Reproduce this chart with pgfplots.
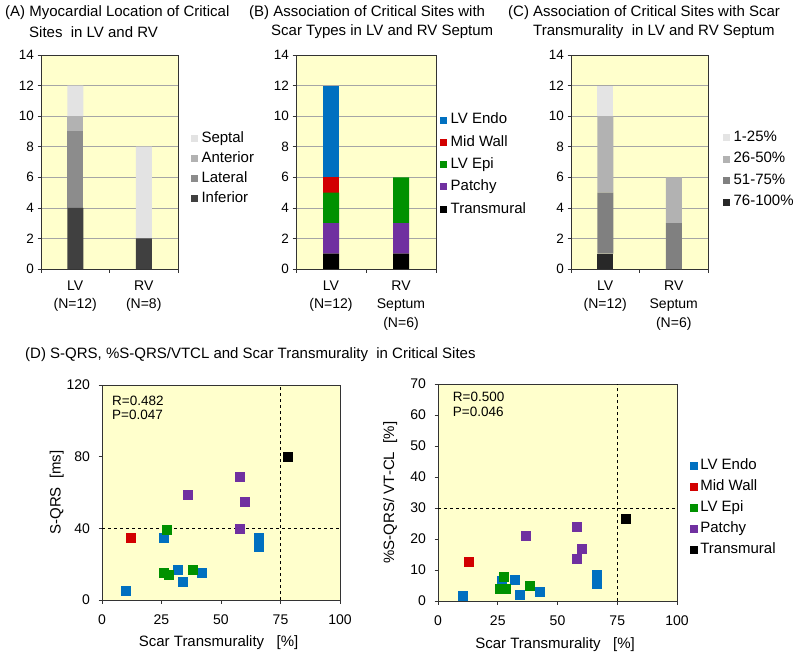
\documentclass[border=0pt]{standalone}
\usepackage{pgfplots}
\pgfplotsset{compat=1.18}
\usepackage{fontspec}
\setmainfont{Liberation Sans}
\definecolor{bgyellow}{RGB}{255,255,204}
\definecolor{gA}{RGB}{227,227,227}
\definecolor{gB}{RGB}{178,178,178}
\definecolor{gC}{RGB}{140,140,140}
\definecolor{gD}{RGB}{64,64,64}
\definecolor{hA}{RGB}{228,228,228}
\definecolor{hB}{RGB}{178,178,178}
\definecolor{hC}{RGB}{128,128,128}
\definecolor{hD}{RGB}{40,40,40}
\definecolor{cEndo}{RGB}{0,112,192}
\definecolor{cMid}{RGB}{210,0,0}
\definecolor{cEpi}{RGB}{0,145,0}
\definecolor{cPat}{RGB}{112,48,160}
\definecolor{cTra}{RGB}{0,0,0}
\newcommand\fA{\fontsize{15}{18}\selectfont}
\newcommand\fT{\fontsize{13.5}{16}\selectfont}
\pgfplotsset{
  common/.style={
    scale only axis, anchor=south west,
    tick align=outside, tick pos=left, major tick length=3.5pt,
    axis background/.style={fill=bgyellow},
    axis line style={black!80, line width=0.7pt},
    tick style={black!80, line width=0.7pt},
    /pgf/number format/assume math mode=true,
    legend style={draw=none, fill=none, inner sep=0pt, outer sep=0pt, font=\fA,
      legend cell align=left, anchor=north west},
  },
  baraxis/.style={
    common, height=214pt,
    ybar stacked, bar width=16pt,
    xmin=0, xmax=2, ymin=0, ymax=14,
    ytick={0,2,...,14},
    xtick={0,1,2}, xticklabels={,,},
    extra x ticks={0.5,1.5},
    extra x tick style={major tick length=0pt,
       tick label style={align=center, font=\fontsize{14}{18.5}\selectfont, yshift=-8pt}},
    ymajorgrids, grid style={black!35, line width=0.6pt},
    yticklabel style={font=\fT},
    reverse legend,
    legend image code/.code={\fill[##1] (0pt,-3.5pt) rectangle (7pt,3.5pt);},
  },
  scataxis/.style={
    common, xmin=0, xmax=100, ymin=0,
    xtick={0,25,50,75,100},
    ticklabel style={font=\fontsize{14}{16}\selectfont},
    xticklabel style={yshift=-8pt},
    yticklabel style={xshift=-5pt},
    xlabel={Scar Transmurality\ \ \ [\%]},
    xlabel style={font=\fA, at={(axis description cs:0.49,-0.2)}, anchor=center},
    ylabel style={font=\fA, anchor=center},
    legend image code/.code={\fill[##1] (0pt,-3.5pt) rectangle (7pt,3.5pt);},
  },
}
\begin{document}
\begin{tikzpicture}
% ---------- titles ----------
\node[anchor=west, inner sep=0pt, font=\fA] at (5pt,-13pt) {(A) Myocardial Location of Critical};
\node[anchor=west, inner sep=0pt, font=\fA] at (29pt,-32pt) {Sites\ \ in LV and RV};
\node[anchor=west, inner sep=0pt, font=\fA] at (249pt,-13pt) {(B) Association of Critical Sites with};
\node[anchor=west, inner sep=0pt, font=\fA] at (271pt,-32pt) {Scar Types in LV and RV Septum};
\node[anchor=west, inner sep=0pt, font=\fA] at (508pt,-13pt) {(C) Association of Critical Sites with Scar};
\node[anchor=west, inner sep=0pt, font=\fA] at (533pt,-32pt) {Transmurality\ \ in LV and RV Septum};
\node[anchor=west, inner sep=0pt, font=\fA] at (25pt,-355pt) {(D) S-QRS, \%S-QRS/VTCL and Scar Transmurality\ \ in Critical Sites};

% ---------- (A) ----------
\begin{axis}[baraxis, width=137pt, at={(41pt,-269pt)},
  extra x tick labels={{LV\\(N=12)},{RV\\(N=8)}},
  legend style={at={(axis description cs:1.095,0.655)},
    nodes={inner xsep=3.5pt, inner ysep=3.25pt, text height=10.5pt, text depth=3pt}}]
\addplot[fill=gD, draw=none] coordinates {(0.5,4) (1.5,2)}; \addlegendentry{Inferior}
\addplot[fill=gC, draw=none] coordinates {(0.5,5) (1.5,0)}; \addlegendentry{Lateral}
\addplot[fill=gB, draw=none] coordinates {(0.5,1) (1.5,0)}; \addlegendentry{Anterior}
\addplot[fill=gA, draw=none] coordinates {(0.5,2) (1.5,6)}; \addlegendentry{Septal}
\end{axis}

% ---------- (B) ----------
\begin{axis}[baraxis, width=140pt, at={(296pt,-269pt)},
  extra x tick labels={{LV\\(N=12)},{RV\\Septum\\(N=6)}},
  legend style={at={(axis description cs:1.03,0.748)},
    nodes={inner xsep=3.5pt, inner ysep=4.4pt, text height=10.5pt, text depth=3pt}}]
\addplot[fill=cTra, draw=none] coordinates {(0.5,1) (1.5,1)}; \addlegendentry{Transmural}
\addplot[fill=cPat, draw=none] coordinates {(0.5,2) (1.5,2)}; \addlegendentry{Patchy}
\addplot[fill=cEpi, draw=none] coordinates {(0.5,2) (1.5,3)}; \addlegendentry{LV Epi}
\addplot[fill=cMid, draw=none] coordinates {(0.5,1) (1.5,0)}; \addlegendentry{Mid Wall}
\addplot[fill=cEndo, draw=none] coordinates {(0.5,6) (1.5,0)}; \addlegendentry{LV Endo}
\end{axis}

% ---------- (C) ----------
\begin{axis}[baraxis, width=137pt, at={(571pt,-269pt)},
  extra x tick labels={{LV\\(N=12)},{RV\\Septum\\(N=6)}},
  legend style={at={(axis description cs:1.11,0.664)},
    nodes={inner xsep=3.5pt, inner ysep=4pt, text height=10.5pt, text depth=3pt}}]
\addplot[fill=hD, draw=none] coordinates {(0.5,1) (1.5,0)}; \addlegendentry{76-100\%}
\addplot[fill=hC, draw=none] coordinates {(0.5,4) (1.5,3)}; \addlegendentry{51-75\%}
\addplot[fill=hB, draw=none] coordinates {(0.5,5) (1.5,3)}; \addlegendentry{26-50\%}
\addplot[fill=hA, draw=none] coordinates {(0.5,2) (1.5,0)}; \addlegendentry{1-25\%}
\end{axis}

% ---------- (D) left ----------
\begin{axis}[scataxis, width=238pt, height=215pt, at={(102pt,-600pt)},
  ymax=120, ytick={0,40,80,120},
  ylabel={S-QRS\ \ [ms]},
  ylabel style={at={(axis description cs:-0.19,0.5)}}]
\addplot[black, dashed, line width=0.8pt, forget plot] coordinates {(75,0) (75,120)};
\addplot[black, dashed, line width=0.8pt, forget plot] coordinates {(0,40) (100,40)};
\addplot[only marks, mark=square*, mark size=4.5pt, color=cEndo] coordinates {
 (10,5) (26,35) (32,17) (34,10) (42,15) (66,35) (66,30)};
\addplot[only marks, mark=square*, mark size=4.5pt, color=cMid] coordinates {(12,35)};
\addplot[only marks, mark=square*, mark size=4.5pt, color=cEpi] coordinates {
 (27,39) (26,15) (28,14) (38,17)};
\addplot[only marks, mark=square*, mark size=4.5pt, color=cPat] coordinates {
 (36,59) (58,69) (60,55) (58,40)};
\addplot[only marks, mark=square*, mark size=4.5pt, color=cTra] coordinates {(78,80)};
\node[anchor=west, inner sep=0pt, font=\fT] at (axis description cs:0.042,0.927) {R=0.482};
\node[anchor=west, inner sep=0pt, font=\fT] at (axis description cs:0.042,0.86) {P=0.047};
\end{axis}

% ---------- (D) right ----------
\begin{axis}[scataxis, width=239pt, height=217pt, at={(438pt,-601pt)},
  ymax=70, ytick={0,10,...,70},
  ylabel={\%S-QRS/ VT-CL\ \ [\%]},
  ylabel style={at={(axis description cs:-0.20,0.5)}},
  legend style={at={(axis description cs:1.054,0.67)},
    nodes={inner xsep=3pt, inner ysep=3.75pt, text height=10.5pt, text depth=3pt}}]
\addplot[black, dashed, line width=0.8pt, forget plot] coordinates {(75,0) (75,70)};
\addplot[black, dashed, line width=0.8pt, forget plot] coordinates {(0,30) (100,30)};
\addplot[only marks, mark=square*, mark size=4.5pt, color=cEndo] coordinates {
 (10.5,1.6) (26.5,6.5) (32.2,6.8) (34.3,1.9) (42.4,3) (66.4,8.4) (66.4,5.6)};
\addlegendentry{LV Endo}
\addplot[only marks, mark=square*, mark size=4.5pt, color=cMid] coordinates {(12.7,12.7)};
\addlegendentry{Mid Wall}
\addplot[only marks, mark=square*, mark size=4.5pt, color=cEpi] coordinates {
 (27.5,7.8) (26,4) (28.5,4.1) (38.5,4.9)};
\addlegendentry{LV Epi}
\addplot[only marks, mark=square*, mark size=4.5pt, color=cPat] coordinates {
 (36.8,21) (58.2,23.9) (60.1,16.8) (58,13.5)};
\addlegendentry{Patchy}
\addplot[only marks, mark=square*, mark size=4.5pt, color=cTra] coordinates {(78.4,26.5)};
\addlegendentry{Transmural}
\node[anchor=west, inner sep=0pt, font=\fT] at (axis description cs:0.0615,0.94) {R=0.500};
\node[anchor=west, inner sep=0pt, font=\fT] at (axis description cs:0.0615,0.871) {P=0.046};
\end{axis}

\pgfresetboundingbox
\path[use as bounding box] (0pt,0pt) rectangle (800pt,-656pt);
\end{tikzpicture}
\end{document}
